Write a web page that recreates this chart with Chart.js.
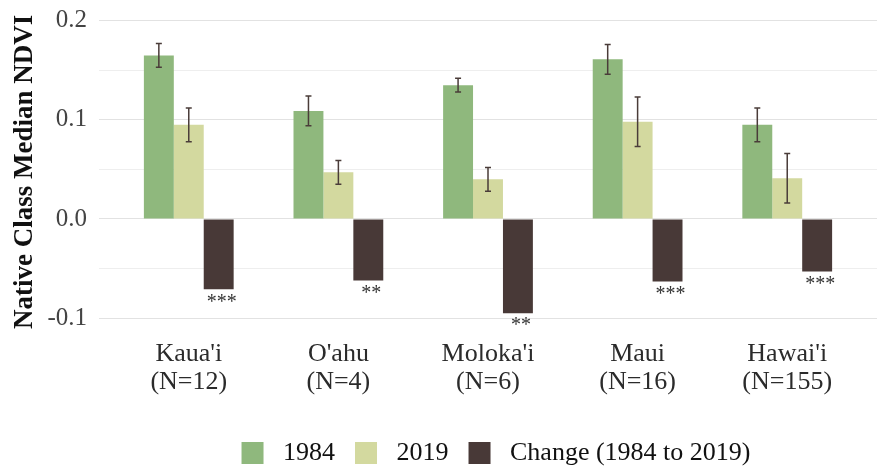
<!DOCTYPE html>
<html>
<head>
<meta charset="utf-8">
<script src="https://cdn.jsdelivr.net/npm/chart.js@4.4.0/dist/chart.umd.min.js"></script>
<style>
  html, body { margin: 0; padding: 0; background: #fff; }
</style>
</head>
<body>
<canvas id="chartCanvas" width="878" height="468"></canvas>
<script>
// values
const islands = ["Kaua'i", "O'ahu", "Moloka'i", "Maui", "Hawai'i"];
const sampleSizes = [12, 4, 6, 16, 155];
const ndvi1984 = [0.165, 0.109, 0.135, 0.161, 0.095];
const err1984 = [0.012, 0.015, 0.007, 0.015, 0.017];
const ndvi2019 = [0.095, 0.047, 0.040, 0.098, 0.041];
const err2019 = [0.017, 0.012, 0.012, 0.025, 0.025];
const change = [-0.071, -0.062, -0.095, -0.063, -0.053];
const significance = ['***', '**', '**', '***', '***'];
const seriesNames = ['1984', '2019', 'Change (1984 to 2019)'];

const serif = '"Liberation Serif", "Times New Roman", serif';

// error bars + significance stars, positioned through the chart's own scales
const errorBarPlugin = {
    id: 'errorBars',
    afterLayout(chart) {
        // the figure's legend sits a touch right of the panel centre
        chart.legend.left += 8;
        chart.legend.right += 8;
    },
    afterDatasetsDraw(chart) {
        const ctx = chart.ctx;
        const yScale = chart.scales.y;
        const errs = [err1984, err2019];
        ctx.save();
        ctx.strokeStyle = '#4a3c39';
        ctx.lineWidth = 1.5;
        errs.forEach((err, di) => {
            const meta = chart.getDatasetMeta(di);
            const vals = chart.data.datasets[di].data;
            meta.data.forEach((bar, i) => {
                const top = yScale.getPixelForValue(vals[i] + err[i]);
                const bot = yScale.getPixelForValue(vals[i] - err[i]);
                ctx.beginPath();
                ctx.moveTo(bar.x, top);
                ctx.lineTo(bar.x, bot);
                ctx.moveTo(bar.x - 3, top);
                ctx.lineTo(bar.x + 3, top);
                ctx.moveTo(bar.x - 3, bot);
                ctx.lineTo(bar.x + 3, bot);
                ctx.stroke();
            });
        });

        const changeMeta = chart.getDatasetMeta(2);
        ctx.fillStyle = '#333333';
        ctx.font = '20px ' + serif;
        ctx.textAlign = 'center';
        ctx.textBaseline = 'top';
        changeMeta.data.forEach((bar, i) => {
            ctx.fillText(significance[i], bar.x + 3, bar.y + 3);
        });
        ctx.restore();
    }
};

const isMajor = v => Math.abs(v * 10 - Math.round(v * 10)) < 1e-6;

const ctx = document.getElementById('chartCanvas').getContext('2d');
new Chart(ctx, {
    type: 'bar',
    data: {
        labels: islands.map((name, i) => [name, '(N=' + sampleSizes[i] + ')']),
        datasets: [
            { label: seriesNames[0], data: ndvi1984, backgroundColor: '#8fb87d', borderWidth: 0 },
            { label: seriesNames[1], data: ndvi2019, backgroundColor: '#d3d99f', borderWidth: 0 },
            { label: seriesNames[2], data: change, backgroundColor: '#483937', borderWidth: 0 }
        ]
    },
    options: {
        responsive: false,
        animation: false,
        layout: { padding: { left: 0, right: 1, top: 0, bottom: -8 } },
        datasets: {
            bar: { categoryPercentage: 0.6, barPercentage: 1.0 }
        },
        plugins: {
            tooltip: { enabled: false },
            legend: {
                position: 'bottom',
                fullSize: false,   // centre the legend under the plot panel
                labels: {
                    boxWidth: 22,
                    boxHeight: 22,
                    padding: 20,
                    color: '#111',
                    font: { family: serif, size: 26 },
                    // a little extra room between swatch and text, as in the figure
                    generateLabels(chart) {
                        const items = Chart.defaults.plugins.legend.labels.generateLabels(chart);
                        items.forEach(it => { it.text = ' ' + it.text; });
                        return items;
                    }
                }
            }
        },
        scales: {
            x: {
                // widen the discrete axis like ggplot's 0.6-unit expansion
                afterBuildTicks(scale) {
                    scale._startValue = -0.6;
                    scale._valueRange = 5.2;
                },
                afterFit(scale) { scale.height = 92; },
                grid: { display: false, drawTicks: false },
                border: { display: false },
                ticks: {
                    color: '#2b2b2b',
                    padding: 13,
                    maxRotation: 0,
                    autoSkip: false,
                    font: { family: serif, size: 26, lineHeight: 1.05 }
                }
            },
            y: {
                min: -0.11,
                max: 0.205,
                afterFit(scale) { scale.width = 99; },
                grid: {
                    drawTicks: false,
                    color: c => isMajor(c.tick.value) ? '#e2e2e2' : '#eeeeee',
                    lineWidth: 1
                },
                border: { display: false },
                ticks: {
                    stepSize: 0.05,
                    includeBounds: false,
                    padding: 12,
                    color: '#444444',
                    // small line height keeps the top label from pushing the plot down
                    font: { family: serif, size: 25, lineHeight: 0.3 },
                    callback: v => isMajor(v) ? v.toFixed(1) : ''
                },
                title: {
                    display: true,
                    text: 'Native Class Median NDVI',
                    color: '#111',
                    font: { family: serif, size: 27, weight: 'bold' },
                    padding: { top: 9, bottom: 0 }
                }
            }
        }
    },
    plugins: [errorBarPlugin]
});
</script>
</body>
</html>
